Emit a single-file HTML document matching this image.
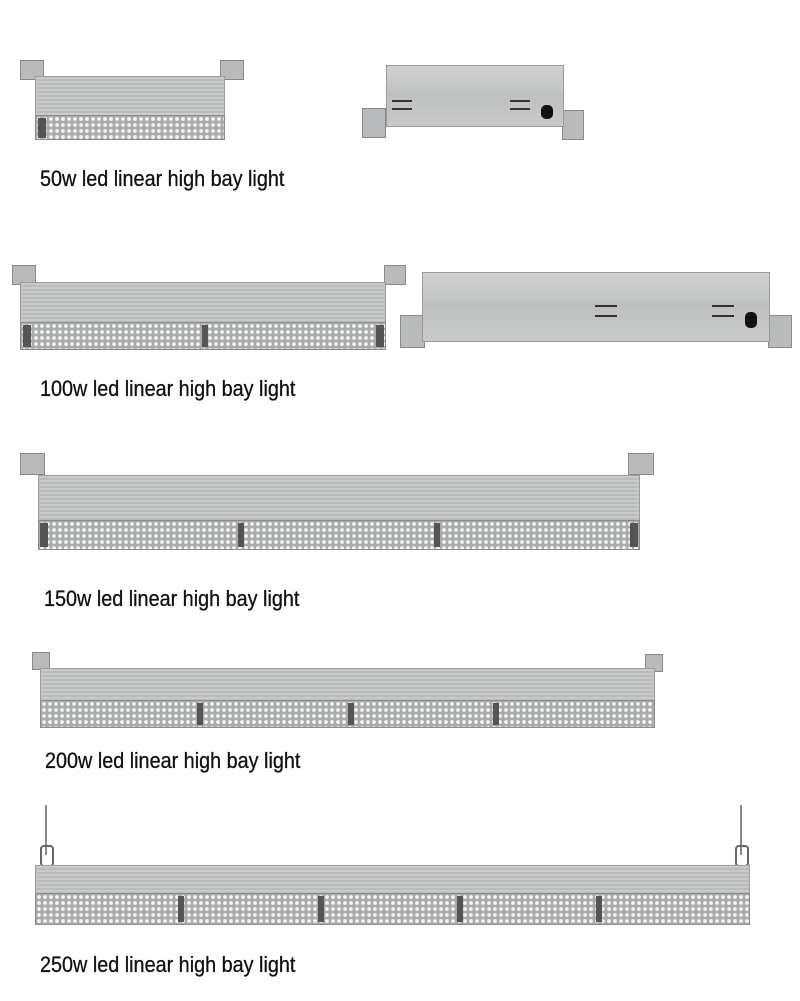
<!DOCTYPE html>
<html><head><meta charset="utf-8"><style>
body{margin:0;width:800px;height:1001px;background:#fff;position:relative;overflow:hidden;font-family:"Liberation Sans",Arial,sans-serif}
.a{position:absolute}
.top{background:repeating-linear-gradient(180deg,#c9cbcb 0 2px,#b9bbbc 2px 4px);border:1px solid #9a9c9d;box-sizing:border-box}
.led{background-color:#a9abac;background-image:radial-gradient(circle,#f4f4f4 1.6px,transparent 2.2px);background-size:6px 6px;border:1px solid #8a8c8d;box-sizing:border-box}
.side{background:linear-gradient(180deg,#cfd1d1 0,#c2c4c5 40%,#bdbfc0 45%,#c8caca 100%);border:1px solid #999;box-sizing:border-box}
.br{background:#b8babb;border:1px solid #888;box-sizing:border-box}
.t{font-size:22px;color:#111;white-space:nowrap;transform:scaleX(0.9);transform-origin:left;-webkit-text-stroke:0.3px #111}
.sep{background:#555}
.vent{background:#333;height:2px}
</style></head><body>

<!-- 50w front -->
<div class="a br" style="left:20px;top:60px;width:24px;height:20px"></div>
<div class="a br" style="left:220px;top:60px;width:24px;height:20px"></div>
<div class="a top" style="left:35px;top:76px;width:190px;height:40px"></div>
<div class="a led" style="left:35px;top:115px;width:190px;height:25px"></div>
<div class="a sep" style="left:38px;top:118px;width:8px;height:20px"></div>
<div class="t a" style="left:40px;top:166px">50w led linear high bay light</div>

<!-- 50w side -->
<div class="a br" style="left:362px;top:108px;width:24px;height:30px"></div>
<div class="a br" style="left:562px;top:110px;width:22px;height:30px"></div>
<div class="a side" style="left:386px;top:65px;width:178px;height:62px"></div>
<div class="a vent" style="left:392px;top:100px;width:20px"></div>
<div class="a vent" style="left:392px;top:108px;width:20px"></div>
<div class="a vent" style="left:510px;top:100px;width:20px"></div>
<div class="a vent" style="left:510px;top:108px;width:20px"></div>
<div class="a" style="left:541px;top:105px;width:12px;height:14px;background:#111;border-radius:5px"></div>

<!-- 100w front -->
<div class="a br" style="left:12px;top:265px;width:24px;height:20px"></div>
<div class="a br" style="left:384px;top:265px;width:22px;height:20px"></div>
<div class="a top" style="left:20px;top:282px;width:366px;height:42px"></div>
<div class="a led" style="left:20px;top:322px;width:366px;height:28px"></div>
<div class="a sep" style="left:23px;top:325px;width:8px;height:22px"></div>
<div class="a sep" style="left:202px;top:325px;width:6px;height:22px"></div>
<div class="a sep" style="left:376px;top:325px;width:8px;height:22px"></div>
<div class="t a" style="left:40px;top:376px">100w led linear high bay light</div>

<!-- 100w side -->
<div class="a br" style="left:400px;top:315px;width:25px;height:33px"></div>
<div class="a br" style="left:768px;top:315px;width:24px;height:33px"></div>
<div class="a side" style="left:422px;top:272px;width:348px;height:70px"></div>
<div class="a vent" style="left:595px;top:305px;width:22px"></div>
<div class="a vent" style="left:595px;top:315px;width:22px"></div>
<div class="a vent" style="left:712px;top:305px;width:22px"></div>
<div class="a vent" style="left:712px;top:315px;width:22px"></div>
<div class="a" style="left:745px;top:312px;width:12px;height:16px;background:#111;border-radius:5px"></div>

<!-- 150w -->
<div class="a br" style="left:20px;top:453px;width:25px;height:22px"></div>
<div class="a br" style="left:628px;top:453px;width:26px;height:22px"></div>
<div class="a top" style="left:38px;top:475px;width:602px;height:47px"></div>
<div class="a led" style="left:38px;top:520px;width:602px;height:30px"></div>
<div class="a sep" style="left:40px;top:523px;width:8px;height:24px"></div>
<div class="a sep" style="left:238px;top:523px;width:6px;height:24px"></div>
<div class="a sep" style="left:434px;top:523px;width:6px;height:24px"></div>
<div class="a sep" style="left:630px;top:523px;width:8px;height:24px"></div>
<div class="t a" style="left:44px;top:586px">150w led linear high bay light</div>

<!-- 200w -->
<div class="a br" style="left:32px;top:652px;width:18px;height:18px"></div>
<div class="a br" style="left:645px;top:654px;width:18px;height:18px"></div>
<div class="a top" style="left:40px;top:668px;width:615px;height:34px"></div>
<div class="a led" style="left:40px;top:700px;width:615px;height:28px"></div>
<div class="a sep" style="left:197px;top:703px;width:6px;height:22px"></div>
<div class="a sep" style="left:348px;top:703px;width:6px;height:22px"></div>
<div class="a sep" style="left:493px;top:703px;width:6px;height:22px"></div>
<div class="t a" style="left:45px;top:748px">200w led linear high bay light</div>

<!-- 250w -->
<div class="a" style="left:45px;top:805px;width:2px;height:50px;background:#888"></div>
<div class="a" style="left:740px;top:805px;width:2px;height:50px;background:#888"></div>
<div class="a" style="left:40px;top:845px;width:10px;height:18px;border:2px solid #666;border-radius:4px"></div>
<div class="a" style="left:735px;top:845px;width:10px;height:18px;border:2px solid #666;border-radius:4px"></div>
<div class="a top" style="left:35px;top:865px;width:715px;height:30px"></div>
<div class="a led" style="left:35px;top:893px;width:715px;height:32px"></div>
<div class="a sep" style="left:178px;top:896px;width:6px;height:26px"></div>
<div class="a sep" style="left:318px;top:896px;width:6px;height:26px"></div>
<div class="a sep" style="left:457px;top:896px;width:6px;height:26px"></div>
<div class="a sep" style="left:596px;top:896px;width:6px;height:26px"></div>
<div class="t a" style="left:40px;top:952px">250w led linear high bay light</div>
</body></html>
